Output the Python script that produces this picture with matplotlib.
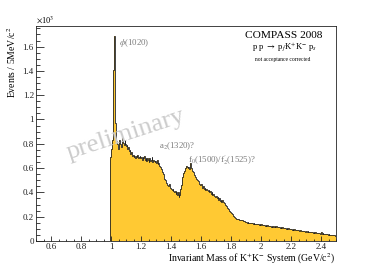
import matplotlib
matplotlib.use('Agg')
import matplotlib.pyplot as plt
from matplotlib.ticker import MultipleLocator, FuncFormatter
import numpy as np

# K+K- invariant mass, 5 MeV/c^2 bins starting at 0.990 GeV/c^2
bin_start = 0.990
bin_width = 0.005
counts = [
    610, 690, 760, 830, 900, 1410, 1690, 970, 880, 820,      # 0.99
    800, 760, 790, 830, 800, 770, 820, 850, 810, 790,        # 1.04
    830, 800, 780, 790, 760, 770, 740, 750, 720, 730,        # 1.09
    700, 710, 690, 700, 680, 700, 690, 710, 680, 690,        # 1.14
    700, 680, 690, 670, 690, 680, 700, 670, 680, 660,        # 1.19
    680, 670, 650, 680, 660, 670, 690, 650, 670, 660,        # 1.24
    650, 660, 640, 670, 630, 640, 620, 610, 600, 590,        # 1.29
    570, 550, 530, 510, 500, 480, 470, 460, 450, 470,        # 1.34
    450, 440, 430, 420, 430, 410, 400, 410, 390, 400,        # 1.39
    380, 400, 360, 380, 430, 460, 500, 530, 560, 580,        # 1.44
    590, 600, 620, 610, 600, 610, 590, 640, 620, 600,        # 1.49
    580, 570, 560, 540, 530, 520, 510, 500, 490, 480,        # 1.54
    470, 460, 470, 450, 440, 450, 430, 440, 420, 430,        # 1.59
    420, 410, 420, 400, 410, 390, 400, 380, 390, 370,        # 1.64
    370, 360, 370, 350, 360, 340, 350, 330, 340, 320,        # 1.69
    335, 325, 320, 310, 300, 290, 280, 270, 260, 250,        # 1.74
    245, 240, 230, 225, 215, 205, 200, 190, 185, 180,        # 1.79
    185, 180, 182, 175, 176, 172, 170, 172, 165, 166,        # 1.84
    158, 155, 160, 150, 155, 148, 152, 145, 150, 146,        # 1.89
    148, 142, 146, 140, 144, 138, 142, 136, 140, 135,        # 1.94
    138, 132, 136, 130, 134, 128, 132, 127, 130, 125,        # 1.99
    128, 122, 126, 120, 124, 118, 122, 116, 120, 115,        # 2.04
    122, 116, 120, 114, 118, 112, 116, 110, 114, 109,        # 2.09
    112, 106, 110, 104, 108, 102, 106, 100, 104, 99,         # 2.14
    102, 97, 100, 94, 98, 92, 96, 91, 94, 89,                # 2.19
    92, 87, 90, 85, 88, 83, 86, 82, 84, 80,                  # 2.24
    83, 78, 81, 76, 79, 74, 77, 73, 75, 71,                  # 2.29
    74, 69, 72, 67, 70, 66, 68, 64, 67, 62,                  # 2.34
    66, 61, 76, 59, 62, 57, 60, 56, 58, 54,                  # 2.39
    56, 52, 55, 50, 53, 49, 51, 47, 50, 46,                  # 2.44
    48, 45,                                                  # 2.49
]

labels = {
    'phi': r'$\phi$(1020)',
    'a2': r'a$_2$(1320)?',
    'f0': r"f$_0$(1500)/f$^{\prime}_2$(1525)?",
}

plt.rcParams['font.family'] = ['Liberation Serif', 'DejaVu Serif']
plt.rcParams['mathtext.fontset'] = 'stix'

vals = np.array(counts) / 1000.0
edges = bin_start + bin_width * np.arange(len(vals) + 1)

fig = plt.figure(figsize=(3.74, 2.68), dpi=100)
ax = fig.add_axes([36/374, 1-241/268, 300/374, 215.3/268])

ax.stairs(vals, edges, fill=True, color='#ffc933', lw=0)
ax.stairs(vals, edges, color='#222222', lw=0.6)

ax.set_xlim(0.5, 2.5)
ax.set_ylim(0, 1.772)

ax.xaxis.set_major_locator(MultipleLocator(0.2))
ax.xaxis.set_minor_locator(MultipleLocator(0.05))
ax.yaxis.set_major_locator(MultipleLocator(0.2))
ax.yaxis.set_minor_locator(MultipleLocator(0.05))
fmt = FuncFormatter(lambda v, p: '%g' % round(v, 3))
ax.xaxis.set_major_formatter(fmt)
ax.yaxis.set_major_formatter(fmt)

ax.tick_params(axis='both', which='both', direction='in', top=False, right=False,
               labelsize=6.5, width=0.6, colors='#222222')
ax.tick_params(axis='x', which='major', length=3.6, pad=1.5)
ax.tick_params(axis='x', which='minor', length=1.8)
ax.tick_params(axis='y', which='major', length=5.8, pad=1.5)
ax.tick_params(axis='y', which='minor', length=2.9)
for s in ax.spines.values():
    s.set_linewidth(0.6)
    s.set_color('#222222')

# axis titles, ROOT style (flush to the ends)
fig.text(36/374, 1-25/268, r'$\times$10$^{3}$', fontsize=6, ha='left', va='bottom')
fig.text(12/374, 1-27/268, r'Events / 5MeV/c$^{2}$', fontsize=7, rotation=90,
         ha='center', va='top')
fig.text(335/374, 1-259/268, r'Invariant Mass of K$^{+}$K$^{-}$ System (GeV/c$^{2}$)',
         fontsize=7, ha='right', va='center')

# header
fig.text(284/374, 1-35/268, 'COMPASS 2008', fontsize=8.2, ha='center', va='center')
fig.text(284/374, 1-47/268, r'p p $\rightarrow$ p$_{f}$K$^{+}$K$^{-}$ p$_{s}$',
         fontsize=6.2, ha='center', va='center')
fig.text(283/374, 1-59/268, 'not acceptance corrected', fontsize=4.0,
         ha='center', va='center')

# resonance labels
gray = '#7a7a7a'
fig.text(119/374, 1-43/268, labels['phi'], fontsize=6.3, color=gray, ha='left', va='center')
fig.text(159/374, 1-146/268, labels['a2'], fontsize=6.3, color=gray, ha='left', va='center')
fig.text(188/374, 1-160/268, labels['f0'], fontsize=6.3, color=gray, ha='left', va='center')

fig.text(126/374, 1-134/268, 'preliminary', fontsize=19, color='#cccccc',
         rotation=18, ha='center', va='center')

fig.savefig('out.png', dpi=100)
